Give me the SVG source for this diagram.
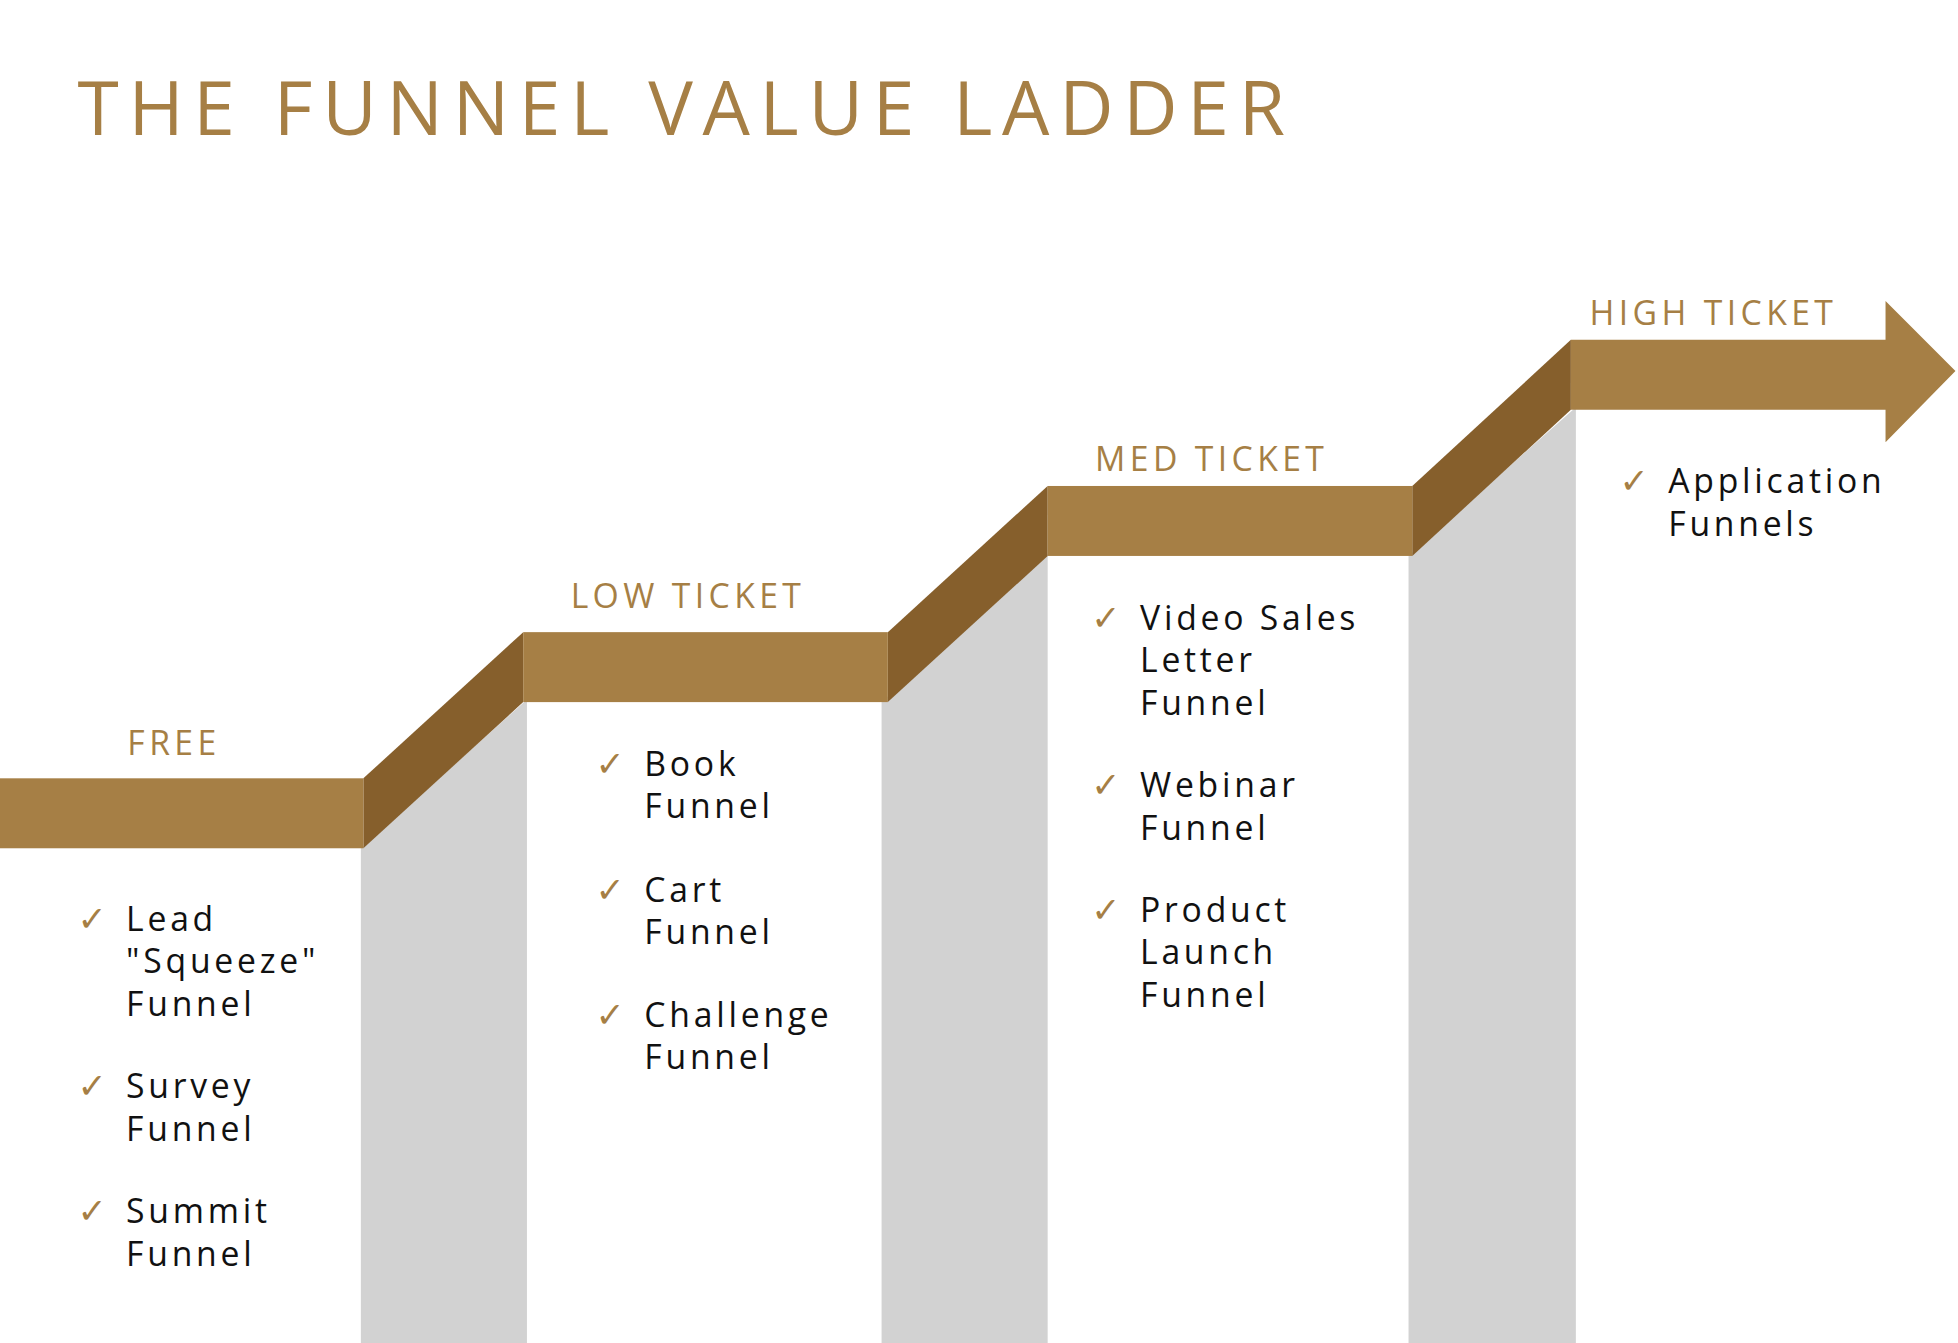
<svg xmlns="http://www.w3.org/2000/svg" width="1958" height="1343" viewBox="0 0 1958 1343">
<style>
.band{fill:#A67F45}.dark{fill:#865F2C}.gray{fill:#D2D2D2}
.title{font-family:"Open Sans","Liberation Sans",sans-serif;font-size:60px;fill:#A67F45;letter-spacing:9px}
.lbl{font-family:"Open Sans","Liberation Sans",sans-serif;font-size:27px;fill:#A67F45;letter-spacing:3.5px}
.item{font-family:"Open Sans","Liberation Sans",sans-serif;font-size:27px;fill:#111;letter-spacing:3px}
.chk{font-family:"DejaVu Sans",sans-serif;font-size:28px;fill:#A67F45}
</style>
<rect width="1958" height="1343" fill="#fff"/>
<g transform="scale(1.2487,1.2493)">
<text class="title" x="62" y="108" textLength="976" lengthAdjust="spacing">THE FUNNEL VALUE LADDER</text>
<g id="connectors">
<polygon class="gray" points="289,679 422,560 422,1075 289,1075"/>
<polygon class="gray" points="706,562 839,443 839,1075 706,1075"/>
<polygon class="gray" points="1128,445 1262,326 1262,1075 1128,1075"/>
<polygon class="dark" points="291,623 419,506 419,562 291,679"/>
<polygon class="dark" points="711,506 839,389 839,445 711,562"/>
<polygon class="dark" points="1131,389 1258,272 1258,328 1131,445"/>
</g>
<g id="free">
<rect class="band" x="0" y="623" width="291" height="56"/>
<text class="lbl" x="102" y="604">FREE</text>
<text class="chk" x="62" y="745">✓</text><text class="item" x="101" y="745">Lead</text><text class="item" x="101" y="779">"Squeeze"</text><text class="item" x="101" y="813">Funnel</text>
<text class="chk" x="62" y="879">✓</text><text class="item" x="101" y="879">Survey</text><text class="item" x="101" y="913">Funnel</text>
<text class="chk" x="62" y="979">✓</text><text class="item" x="101" y="979">Summit</text><text class="item" x="101" y="1013">Funnel</text>
</g>
<g id="low">
<rect class="band" x="419" y="506" width="292" height="56"/>
<text class="lbl" x="457" y="487">LOW TICKET</text>
<text class="chk" x="477" y="621">✓</text><text class="item" x="516" y="621">Book</text><text class="item" x="516" y="655">Funnel</text>
<text class="chk" x="477" y="722">✓</text><text class="item" x="516" y="722">Cart</text><text class="item" x="516" y="756">Funnel</text>
<text class="chk" x="477" y="822">✓</text><text class="item" x="516" y="822">Challenge</text><text class="item" x="516" y="856">Funnel</text>
</g>
<g id="med">
<rect class="band" x="839" y="389" width="292" height="56"/>
<text class="lbl" x="877" y="377">MED TICKET</text>
<text class="chk" x="874" y="504">✓</text><text class="item" x="913" y="504">Video Sales</text><text class="item" x="913" y="538">Letter</text><text class="item" x="913" y="572">Funnel</text>
<text class="chk" x="874" y="638">✓</text><text class="item" x="913" y="638">Webinar</text><text class="item" x="913" y="672">Funnel</text>
<text class="chk" x="874" y="738">✓</text><text class="item" x="913" y="738">Product</text><text class="item" x="913" y="772">Launch</text><text class="item" x="913" y="806">Funnel</text>
</g>
<g id="high">
<polygon class="band" points="1258,272 1510,272 1510,241 1566,297 1510,354 1510,328 1258,328"/>
<text class="lbl" x="1273" y="260">HIGH TICKET</text>
<text class="chk" x="1297" y="395">✓</text><text class="item" x="1336" y="395">Application</text><text class="item" x="1336" y="429">Funnels</text>
</g>
</g>
</svg>
